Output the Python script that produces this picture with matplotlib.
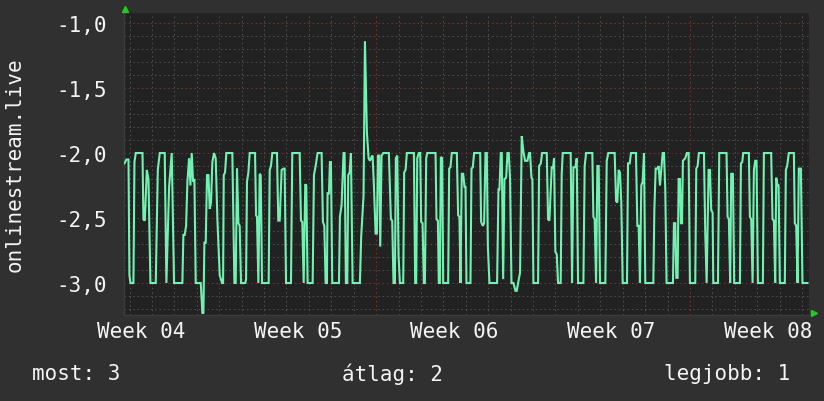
import matplotlib
matplotlib.use("Agg")
import matplotlib.pyplot as plt
import numpy as np
from matplotlib.ticker import FixedLocator, MultipleLocator, FuncFormatter

# ---- data (hours since start of the window, value) ----
hours = [
    0.0, 2.1, 4.3, 5.3, 6.4, 9.6, 10.7, 12.1, 19.3, 20.3, 21.8, 23.9, 25.7, 27.8, 33.5, 35.7, 37.8, 43.1, 44.9,
    47.8, 50.6, 53.1, 62.0, 63.1, 64.5, 66.0, 67.4, 69.2, 70.6, 72.0, 73.5, 74.9, 76.3, 81.7, 83.4, 84.5, 85.6,
    87.0, 88.4, 89.9, 91.3, 92.7, 94.1, 95.9, 97.7, 99.5, 102.0, 104.5,
    105.6, 106.3, 107.7, 109.1, 115.5, 117.7, 119.1, 120.5, 122.0, 123.4, 124.8, 129.4, 130.2, 131.2, 132.7,
    134.1, 139.8, 140.9, 141.9, 143.4, 144.8, 145.9, 147.3, 154.4, 155.5, 156.9, 158.3, 163.3, 164.7, 166.2,
    168.3, 170.5, 171.5, 173.0, 178.3, 179.7, 187.6, 189.0, 190.4, 191.9, 193.6, 194.7, 196.1, 201.5, 202.9,
    204.7, 206.8,
    211.1, 212.5, 214.0, 215.4, 216.8, 217.5, 219.0, 220.0, 221.1, 222.5, 229.7, 230.7, 232.5, 234.6, 235.7,
    237.1, 238.6, 239.6, 241.1, 242.5, 244.3, 252.1, 253.5, 256.0, 257.5, 259.6, 261.4, 262.8, 264.6, 265.7,
    267.1, 268.9, 270.3, 271.4, 272.8, 273.9, 275.3, 277.1, 283.1, 285.3, 286.7, 288.1, 289.6, 290.6, 292.1,
    293.5, 294.9, 298.5, 299.5, 301.0, 302.4, 309.9, 311.3,
    312.4, 313.5, 315.2, 316.7, 317.7, 319.2, 320.6, 321.7, 323.1, 324.2, 333.1, 334.1, 335.6, 336.6, 337.7,
    338.8, 340.2, 341.3, 346.6, 347.7, 349.1, 350.5, 355.9, 357.3, 358.7, 359.8, 361.2, 362.7, 364.1, 365.2,
    366.2, 370.5, 371.6, 373.0, 374.4, 380.9, 381.9, 383.7, 385.1, 386.6, 388.0, 389.1, 390.8, 399.0, 400.5,
    401.5, 403.0, 404.0, 405.5, 406.9, 408.7, 410.1, 411.5, 412.9, 414.4, 416.5, 418.7,
    420.1, 421.5, 423.6, 425.4, 427.2, 429.0, 431.5, 433.3, 434.3, 435.8, 436.8, 437.9, 442.9, 444.0, 445.8,
    447.2, 452.2, 453.6, 455.0, 457.5, 459.0, 460.0, 461.4, 462.9, 464.3, 467.1, 468.2, 469.3, 477.8, 479.3,
    480.7, 482.8, 484.3, 485.7, 491.4, 492.8, 494.3, 501.0, 502.1, 503.5, 505.0, 506.4, 507.8, 509.2, 514.9,
    516.4, 518.1,
    524.9, 526.4, 527.8, 529.2, 530.6, 532.0, 533.5, 538.1, 539.2, 541.0, 542.4, 547.7, 549.2, 550.6, 552.0,
    553.4, 554.9, 556.3, 557.7, 566.3, 567.4, 568.8, 570.6, 572.0, 573.4, 576.3, 577.7, 579.1, 580.5, 587.3,
    588.4, 589.8, 590.9, 592.3, 593.4, 594.8, 595.9, 597.0, 598.0, 600.5, 602.3, 604.1, 605.5, 611.2, 612.3,
    613.7, 615.1, 620.5, 621.9, 623.4, 625.5, 626.9,
    628.3, 629.8, 630.5, 635.5, 636.9, 644.7, 645.8, 647.2, 648.6, 649.7, 651.5, 652.9, 659.0, 660.1, 661.5,
    662.6, 668.6, 669.7, 671.1, 672.6, 674.0, 675.4, 676.8, 678.3, 683.6, 684.7, 692.5, 693.9, 695.4, 696.8,
    697.9, 699.3, 700.4, 701.8, 707.1, 708.2, 709.6, 711.4, 716.8, 717.8, 719.3, 720.7, 722.1, 724.3, 726.0,
    731.4,
]
values = [
    -2.08, -2.05, -2.05, -2.94, -3.0, -3.0, -2.07, -2.0, -2.0, -2.51, -2.52, -2.13, -2.20, -3.0, -3.0, -2.13,
    -2.0, -2.0, -3.0, -2.26, -2.0, -3.0, -3.0, -2.63, -2.63, -2.56, -2.22, -2.04, -2.25, -2.0, -2.22, -2.20,
    -3.0, -3.0, -3.23, -3.23, -2.69, -2.69, -2.17, -2.17, -2.43, -2.38, -2.07, -2.0, -2.04, -2.51, -2.94, -3.0,
    -3.0, -2.17, -2.15, -2.0, -2.0, -3.0, -3.0, -2.12, -2.54, -2.56, -3.0, -3.0, -2.97, -2.22, -2.15,
    -2.0, -2.0, -2.48, -2.49, -3.0, -2.16, -2.17, -3.0, -3.0, -2.13, -2.10, -2.0, -2.0, -2.52, -2.52,
    -2.13, -2.12, -2.12, -3.0, -3.0, -2.0, -2.0, -2.52, -2.53, -3.0, -2.24, -2.25, -3.0, -3.0, -2.17,
    -2.10, -2.0,
    -2.0, -2.53, -2.56, -3.0, -3.0, -2.31, -2.31, -2.07, -2.07, -3.0, -3.0, -2.49, -2.40, -2.0, -2.0,
    -3.0, -3.0, -2.17, -2.15, -2.0, -3.0, -3.0, -2.64, -2.33, -1.14, -1.84, -2.04, -2.06, -2.03, -2.02,
    -2.25, -2.62, -2.62, -2.02, -2.02, -2.72, -2.02, -2.0, -2.0, -2.51, -2.52, -3.0, -3.0, -2.04, -2.02,
    -2.79, -3.0, -3.0, -2.15, -2.13, -2.0, -2.0, -3.0,
    -3.0, -2.04, -2.0, -2.0, -2.53, -2.54, -3.0, -3.0, -2.04, -2.0, -2.0, -2.51, -2.52, -3.0, -3.0,
    -2.03, -2.04, -3.0, -3.0, -2.12, -2.11, -2.0, -2.0, -2.48, -2.49, -3.0, -2.16, -2.16, -2.26, -2.26,
    -3.0, -3.0, -2.12, -2.11, -2.0, -2.0, -2.53, -2.56, -2.54, -2.0, -2.0, -2.71, -3.0, -3.0, -2.28,
    -2.28, -2.0, -2.0, -2.97, -2.20, -2.19, -2.0, -2.0, -2.20, -3.0, -3.0, -3.06,
    -3.06, -3.0, -2.92, -1.87, -1.99, -2.06, -2.06, -2.0, -2.0, -2.19, -2.20, -3.0, -3.0, -2.10, -2.08,
    -2.0, -2.0, -2.51, -2.52, -2.11, -2.11, -2.04, -2.76, -2.78, -3.0, -3.0, -2.16, -2.0, -2.0, -3.0,
    -2.11, -2.11, -2.04, -3.0, -3.0, -2.10, -2.0, -2.0, -2.49, -2.51, -3.0, -2.10, -2.10, -3.0, -3.0,
    -2.06, -2.0,
    -2.0, -2.37, -2.38, -2.13, -2.15, -2.38, -3.0, -3.0, -2.08, -2.08, -2.0, -2.0, -2.56, -2.56, -3.0,
    -2.25, -2.22, -2.0, -3.0, -3.0, -2.44, -2.12, -2.12, -2.10, -2.25, -2.0, -2.0, -2.28, -3.0, -3.0,
    -2.54, -2.54, -2.96, -2.96, -2.20, -2.20, -2.54, -2.54, -2.06, -2.04, -2.0, -2.0, -3.0, -3.0, -2.12,
    -2.10, -2.0, -2.0, -2.61, -3.0, -2.13, -2.13,
    -2.44, -2.46, -3.0, -3.0, -2.0, -2.0, -2.49, -2.51, -3.0, -2.16, -2.16, -3.0, -3.0, -2.08, -2.07,
    -2.0, -2.0, -2.49, -2.51, -3.0, -2.13, -2.06, -2.06, -3.0, -3.0, -2.0, -2.0, -2.51, -2.52, -3.0,
    -2.19, -2.25, -2.25, -3.0, -3.0, -2.13, -2.10, -2.0, -2.0, -2.54, -2.56, -3.0, -2.12, -2.12, -3.0,
    -3.0,
]

week_labels = ["Week 04", "Week 05", "Week 06", "Week 07", "Week 08"]
week_label_hours = [17.5, 185.5, 353.5, 521.5, 689.5]
week_start_hours = [101.5, 269.5, 437.5, 605.5]
ytick_values = [-1.0, -1.5, -2.0, -2.5, -3.0]
ylabel_text = "onlinestream.live"
legend_texts = ["most: 3", "átlag: 2", "legjobb: 1"]

BG = "#303030"
PLOT_BG = "#222222"
LINE = "#72f2b2"
MINOR = "#505050"
MAJOR = "#7a3434"
TXT = "#f4f4f4"
FONT = ["DejaVu Sans Mono"]
FS = 15

fig = plt.figure(figsize=(8.24, 4.02), dpi=100, facecolor=BG)
ax = fig.add_axes([124 / 824, 1 - 316 / 402, (809 - 124) / 824, (316 - 14) / 402])
ax.set_facecolor(PLOT_BG)

ax.set_xlim(-0.5, 733)
ax.set_ylim(-3.246, -0.923)

dots = (0, (1.4, 2.8))
# minor grid
xminor = [h for h in np.arange(5.5, 733, 24) if all(abs(h - m) > 1 for m in week_start_hours)]
ax.xaxis.set_minor_locator(FixedLocator(xminor))
ax.yaxis.set_minor_locator(MultipleLocator(0.1))
ax.grid(which="minor", color=MINOR, linestyle=dots, linewidth=0.75)
ax.grid(which="major", axis="y", color=MAJOR, linestyle=dots, linewidth=0.75)
for h in week_start_hours:
    ax.axvline(h, color=MAJOR, linestyle=dots, linewidth=0.75, zorder=0.6)
ax.set_axisbelow(True)

ax.plot(hours, values, color=LINE, linewidth=1.5, solid_joinstyle="miter", zorder=3)

ax.set_yticks(ytick_values)
ax.yaxis.set_major_formatter(FuncFormatter(lambda v, p: f"{v:.1f}".replace(".", ",")))
ax.set_xticks(week_label_hours)
ax.set_xticklabels(week_labels)
ax.tick_params(which="both", length=0)
ax.tick_params(axis="y", pad=12, labelsize=FS, labelcolor=TXT)
ax.tick_params(axis="x", pad=4, labelsize=FS, labelcolor=TXT)
for lab in ax.get_xticklabels() + ax.get_yticklabels():
    lab.set_family(FONT)

for side in ["top", "right"]:
    ax.spines[side].set_visible(False)
for side in ["left", "bottom"]:
    ax.spines[side].set_color("#3c3c3c")
    ax.spines[side].set_linewidth(1.0)

ax.set_ylabel(ylabel_text, family=FONT, fontsize=FS, color=TXT)
ax.yaxis.set_label_coords(-(124 - 25) / 685, 0.5)

# green arrow heads at the axis ends
ax.plot([0.002], [1.012], marker="^", color="#22cc22", markersize=5, transform=ax.transAxes,
        clip_on=False, zorder=5)
ax.plot([1.007], [0.006], marker=">", color="#22cc22", markersize=5, transform=ax.transAxes,
        clip_on=False, zorder=5)

# legend line
fig.text(32 / 824, 1 - 374 / 402, legend_texts[0], family=FONT, fontsize=FS, color=TXT,
         ha="left", va="center")
fig.text(393 / 824, 1 - 374 / 402, legend_texts[1], family=FONT, fontsize=FS, color=TXT,
         ha="center", va="center")
fig.text(790 / 824, 1 - 374 / 402, legend_texts[2], family=FONT, fontsize=FS, color=TXT,
         ha="right", va="center")

fig.savefig("out.png", dpi=100, facecolor=BG)
